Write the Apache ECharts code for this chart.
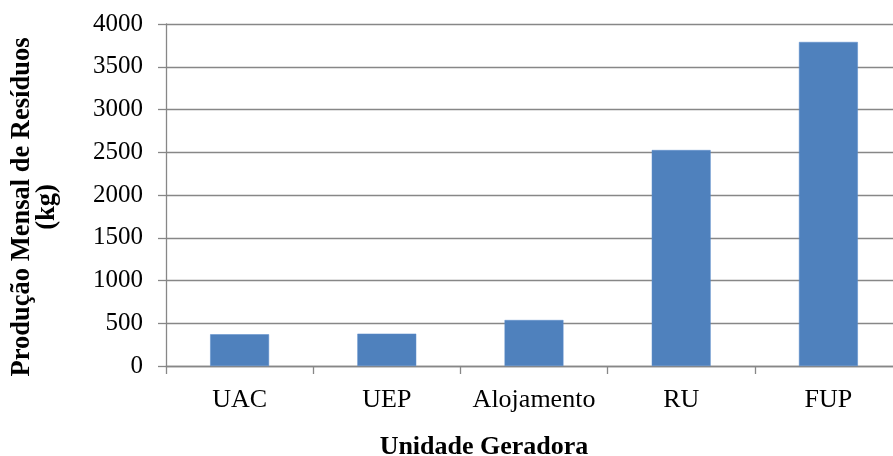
<!DOCTYPE html>
<html>
<head>
<meta charset="utf-8">
<script src="https://cdn.jsdelivr.net/npm/echarts@6/dist/echarts.min.js"></script>
<style>
  html, body { margin: 0; padding: 0; background: #fff; }
  #chart { width: 893px; height: 456px; }
</style>
</head>
<body>
<div id="chart"></div>
<script>
// Monthly waste production (kg) per generating unit
const categories = ['UAC', 'UEP', 'Alojamento', 'RU', 'FUP'];
const wasteKg = [371, 378, 538, 2526, 3790];
const yTicks = { min: 0, max: 4000, step: 500 };

const yTitleLines = ['Produção Mensal de Resíduos', '(kg)'];
const xTitle = 'Unidade Geradora';

const FONT = '"Liberation Serif", "Times New Roman", serif';
const GRID_GREY = '#878787';

const chart = echarts.init(document.getElementById('chart'), null, { renderer: 'canvas' });

chart.setOption({
  animation: false,
  backgroundColor: '#ffffff',
  grid: {
    left: 166,
    top: 24,
    right: -9,
    bottom: 90,
    containLabel: false,
    outerBoundsMode: 'none'
  },
  xAxis: {
    type: 'category',
    data: categories,
    boundaryGap: true,
    axisLine: { show: true, lineStyle: { color: GRID_GREY, width: 1.3 } },
    axisTick: { show: true, interval: 0, length: 8, inside: false, lineStyle: { color: GRID_GREY, width: 1.3 } },
    axisLabel: {
      interval: 0, hideOverlap: false,
      color: '#000', fontFamily: FONT, fontSize: 26, margin: 21
    },
    splitLine: { show: false }
  },
  yAxis: {
    type: 'value',
    min: yTicks.min,
    max: yTicks.max,
    interval: yTicks.step,
    axisLine: { show: true, lineStyle: { color: GRID_GREY, width: 1.3 } },
    axisTick: { show: true, length: 8, lineStyle: { color: GRID_GREY, width: 1.3 } },
    axisLabel: {
      color: '#000', fontFamily: FONT, fontSize: 25, margin: 23,
      formatter: (v) => String(v)
    },
    splitLine: { show: true, lineStyle: { color: GRID_GREY, width: 1.3 } }
  },
  series: [{
    type: 'bar',
    data: wasteKg,
    barWidth: '40%',
    itemStyle: { color: '#4F81BD', borderColor: '#5a8ccc', borderWidth: 0.5 }
  }],
  graphic: [
    {
      type: 'group',
      x: 35, y: 207,
      rotation: Math.PI / 2,
      children: yTitleLines.map((line, i) => ({
        type: 'text',
        x: 0, y: (i - 0.5) * 25,
        style: {
          text: line,
          fontFamily: FONT, fontWeight: 'bold', fontSize: 26.5,
          fill: '#000', align: 'center', verticalAlign: 'middle'
        }
      }))
    },
    {
      type: 'text',
      x: 484, y: 447,
      style: {
        text: xTitle,
        fontFamily: FONT, fontWeight: 'bold', fontSize: 26,
        fill: '#000', align: 'center', verticalAlign: 'middle'
      }
    }
  ]
});
</script>
</body>
</html>
